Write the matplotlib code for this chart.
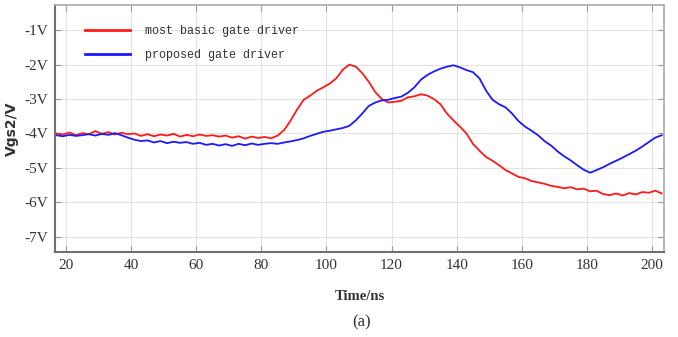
import matplotlib
matplotlib.use("Agg")
import matplotlib.pyplot as plt
import numpy as np

time_ns = list(range(17, 205, 2))

basic_driver = [
    -4.00, -4.03, -3.97, -4.05, -3.99, -4.02, -3.93, -4.01, -3.96, -4.03,
    -3.98, -4.02, -4.00, -4.07, -4.02, -4.08, -4.03, -4.06, -4.01, -4.09,
    -4.04, -4.08, -4.03, -4.07, -4.05, -4.09, -4.06, -4.12, -4.08, -4.15,
    -4.09, -4.13, -4.10, -4.14, -4.06, -3.90, -3.62, -3.30, -3.02, -2.90,
    -2.76, -2.66, -2.55, -2.40, -2.15, -2.00, -2.06, -2.25, -2.50, -2.80,
    -3.00, -3.10, -3.08, -3.05, -2.95, -2.92, -2.86, -2.90, -3.00, -3.15,
    -3.42, -3.62, -3.80, -4.00, -4.30, -4.50, -4.68, -4.79, -4.92, -5.06,
    -5.16, -5.26, -5.30, -5.38, -5.42, -5.46, -5.52, -5.55, -5.59, -5.56,
    -5.62, -5.60, -5.68, -5.66, -5.76, -5.79, -5.74, -5.80, -5.73, -5.77,
    -5.70, -5.72, -5.66, -5.74,
]

proposed_driver = [
    -4.05, -4.08, -4.04, -4.07, -4.05, -4.02, -4.06, -4.01, -4.04, -3.99,
    -4.05, -4.12, -4.18, -4.22, -4.20, -4.26, -4.22, -4.28, -4.24, -4.27,
    -4.25, -4.30, -4.27, -4.33, -4.30, -4.35, -4.31, -4.36, -4.30, -4.34,
    -4.29, -4.33, -4.30, -4.28, -4.30, -4.26, -4.23, -4.19, -4.14, -4.07,
    -4.01, -3.95, -3.92, -3.88, -3.84, -3.78, -3.62, -3.42, -3.20, -3.10,
    -3.04, -3.02, -2.97, -2.93, -2.82, -2.66, -2.44, -2.30, -2.20, -2.12,
    -2.06, -2.02, -2.08, -2.16, -2.22, -2.40, -2.75, -3.02, -3.15, -3.24,
    -3.42, -3.64, -3.80, -3.92, -4.05, -4.22, -4.35, -4.52, -4.66, -4.78,
    -4.92, -5.05, -5.14, -5.06, -4.98, -4.88, -4.79, -4.70, -4.60, -4.50,
    -4.38, -4.25, -4.12, -4.05,
]

x_ticks = [20, 40, 60, 80, 100, 120, 140, 160, 180, 200]
y_ticks = [-1, -2, -3, -4, -5, -6, -7]
y_tick_labels = ["-1V", "-2V", "-3V", "-4V", "-5V", "-6V", "-7V"]

fig = plt.figure(figsize=(6.78, 3.37), dpi=100)
ax = fig.add_axes([55/678, 1-252/337, 609/678, 247/337])

ax.plot(time_ns, basic_driver, color="#ff1a1a", lw=1.3, label="most basic gate driver")
ax.plot(time_ns, proposed_driver, color="#1a1aff", lw=1.3, label="proposed gate driver")

ax.set_xlim(16.6, 203.7)
ax.set_ylim(-7.44, -0.27)
ax.set_xticks(x_ticks)
ax.set_yticks(y_ticks)
ax.set_yticklabels(y_tick_labels)
ax.grid(True, color="#e2e2e2", lw=0.8)
ax.set_axisbelow(True)

ax.tick_params(direction="in", top=True, right=True, length=4, color="#999999",
               labelsize=11, pad=5)
for lab in ax.get_xticklabels() + ax.get_yticklabels():
    lab.set_fontfamily("Liberation Serif")
    lab.set_color("#333333")

for side in ["left", "bottom"]:
    ax.spines[side].set_color("#707070")
    ax.spines[side].set_linewidth(1.5)
for side in ["top", "right"]:
    ax.spines[side].set_color("#aaaaaa")
    ax.spines[side].set_linewidth(1.2)

ax.set_ylabel("Vgs2/V", fontsize=10, fontfamily="DejaVu Sans", fontweight="bold",
              color="#333333", labelpad=4)
ax.set_xlabel("Time/ns", fontsize=10.5, fontfamily="Liberation Serif", fontweight="bold",
              color="#333333", labelpad=13)

leg = ax.legend(loc="upper left", bbox_to_anchor=(0.049, 0.919), frameon=False,
                borderaxespad=0, borderpad=0, handlelength=3.8, handletextpad=1.3,
                labelspacing=1.03, prop={"family": "Liberation Mono", "size": 8.5})
for line in leg.get_lines():
    line.set_linewidth(2)
for t in leg.get_texts():
    t.set_color("#333333")

fig.text(0.534, 1-322/337, "(a)", ha="center", va="center", fontsize=12,
         fontfamily="Liberation Serif", color="#333333")

fig.savefig("out.png", dpi=100)
